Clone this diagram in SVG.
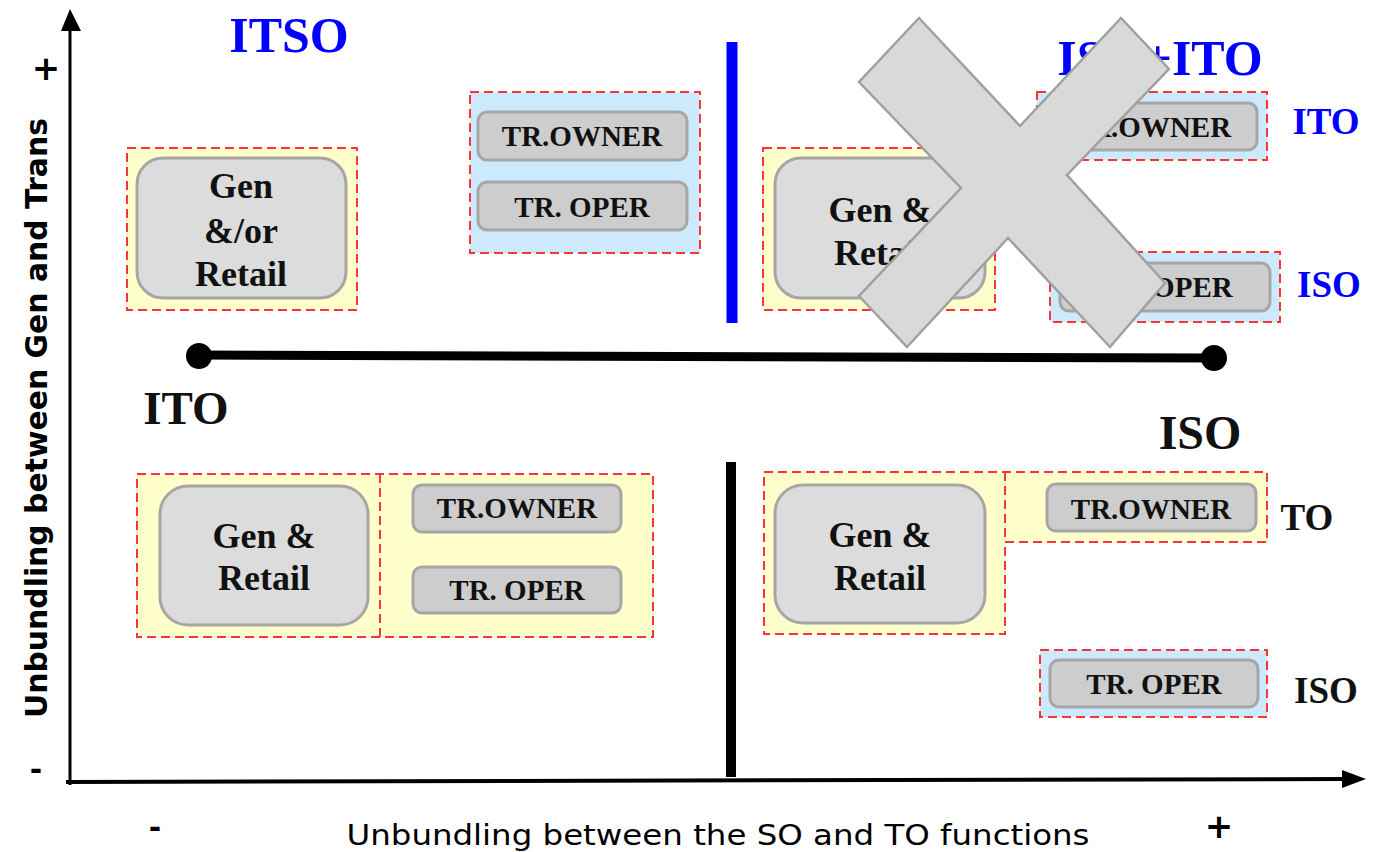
<svg xmlns="http://www.w3.org/2000/svg" width="1373" height="852" viewBox="0 0 1373 852">
<defs>
<style>
.grpY{fill:#ffffcc;stroke:#ff3333;stroke-width:2;stroke-dasharray:9,5}
.grpB{fill:#cdeafd;stroke:#ff3333;stroke-width:2;stroke-dasharray:9,5}
.big{fill:#dcdcdc;stroke:#a6a6a6;stroke-width:3}
.sm{fill:#cdcdcd;stroke:#a6a6a6;stroke-width:3}
.t{font-family:"Liberation Serif",serif;font-weight:bold;fill:#111;text-anchor:middle}
.tb{font-size:36px}
.ts{font-size:29px}
.blue{fill:#0000ff}
.ax{font-family:"DejaVu Sans","Liberation Sans",sans-serif;fill:#000}
</style>
<marker id="arr" viewBox="0 0 10 10" refX="9" refY="5" markerWidth="10" markerHeight="10" markerUnits="userSpaceOnUse" orient="auto"><path d="M0,0 L10,5 L0,10 z" fill="#000"/></marker>
</defs>
<rect width="1373" height="852" fill="#fff"/>

<g id="axes">
<line x1="70" y1="785" x2="70" y2="30" stroke="#000" stroke-width="3"/>
<path d="M61,31 L70,9 L81,31 z" fill="#000"/>
<line x1="66" y1="782" x2="1345" y2="779" stroke="#000" stroke-width="4"/>
<path d="M1342,770 L1366,779 L1342,788 z" fill="#000"/>
<text class="ax" x="46" y="80" font-size="34" font-weight="bold" text-anchor="middle">+</text>
<text class="ax" x="36" y="780" font-size="30" font-weight="bold" text-anchor="middle">-</text>
<text class="ax" x="155" y="838" font-size="30" font-weight="bold" text-anchor="middle">-</text>
<text class="ax" x="1219" y="838" font-size="34" font-weight="bold" text-anchor="middle">+</text>
<text class="ax" x="718" y="845" font-size="28" textLength="743" lengthAdjust="spacingAndGlyphs" text-anchor="middle">Unbundling between the SO and TO functions</text>
<text class="ax" transform="translate(47,418) rotate(-90)" font-size="30" font-weight="bold" textLength="600" lengthAdjust="spacingAndGlyphs" text-anchor="middle">Unbundling between Gen and Trans</text>
</g>

<g id="connectors">
<line x1="732" y1="42" x2="732" y2="323" stroke="#0000ff" stroke-width="11"/>
<line x1="731" y1="462" x2="731" y2="777" stroke="#000" stroke-width="10"/>
<path d="M200,355 L1214,358" stroke="#000" stroke-width="9"/>
<circle cx="199" cy="356" r="13" fill="#000"/>
<circle cx="1214" cy="358" r="13" fill="#000"/>
</g>

<g id="labels">
<text class="t blue" x="289" y="52" font-size="50">ITSO</text>
<text class="t blue" x="1160" y="75" font-size="50">ISO+ITO</text>
<text class="t" x="186" y="424" font-size="47">ITO</text>
<text class="t" x="1200" y="449" font-size="48">ISO</text>
<text class="t blue" x="1326" y="134" font-size="37">ITO</text>
<text class="t blue" x="1329" y="297" font-size="37">ISO</text>
<text class="t" x="1307" y="530" font-size="37">TO</text>
<text class="t" x="1326" y="703" font-size="37">ISO</text>
</g>

<g id="itso-gen">
<rect class="grpY" x="127" y="148" width="230" height="162"/>
<rect class="big" x="137" y="158" width="209" height="140" rx="26"/>
<text class="t tb" x="241" y="198">Gen</text>
<text class="t tb" x="241" y="243">&amp;/or</text>
<text class="t tb" x="241" y="286">Retail</text>
</g>

<g id="itso-trans">
<rect class="grpB" x="470" y="92" width="230" height="161"/>
<rect class="sm" x="478" y="112" width="209" height="48" rx="9"/>
<text class="t ts" x="582" y="146">TR.OWNER</text>
<rect class="sm" x="478" y="182" width="209" height="48" rx="9"/>
<text class="t ts" x="582" y="217">TR. OPER</text>
</g>

<g id="isoito-gen">
<rect class="grpY" x="763" y="148" width="232" height="162"/>
<rect class="big" x="775" y="158" width="210" height="140" rx="26"/>
<text class="t tb" x="880" y="222">Gen &amp;</text>
<text class="t tb" x="880" y="265">Retail</text>
</g>

<g id="isoito-owner">
<rect class="grpB" x="1037" y="92" width="230" height="68"/>
<rect class="sm" x="1045" y="103" width="212" height="47" rx="9"/>
<text class="t ts" x="1151" y="137">TR.OWNER</text>
</g>

<g id="isoito-oper">
<rect class="grpB" x="1050" y="252" width="230" height="70"/>
<rect class="sm" x="1060" y="263" width="210" height="48" rx="9"/>
<text class="t ts" x="1165" y="297">TR. OPER</text>
</g>

<g id="cross">
<polygon points="919,18 1020,126 1121,18 1169,69 1067,175 1165,283 1110,347 1008,238 907,347 859,296 961,188 859,82" fill="#d9d9d9" stroke="#a0a0a0" stroke-width="2.5" stroke-linejoin="miter"/>
</g>

<g id="ito-group">
<rect class="grpY" x="137" y="474" width="516" height="163"/>
<line x1="380" y1="474" x2="380" y2="637" stroke="#ff3333" stroke-width="2" stroke-dasharray="9,5"/>
<rect class="big" x="160" y="486" width="208" height="139" rx="28"/>
<text class="t tb" x="264" y="548">Gen &amp;</text>
<text class="t tb" x="264" y="590">Retail</text>
<rect class="sm" x="413" y="485" width="208" height="47" rx="9"/>
<text class="t ts" x="517" y="518">TR.OWNER</text>
<rect class="sm" x="413" y="567" width="208" height="46" rx="9"/>
<text class="t ts" x="517" y="600">TR. OPER</text>
</g>

<g id="iso-group">
<path class="grpY" d="M764,472 L1267,472 L1267,542 L1005,542 L1005,634 L764,634 Z"/>
<line x1="1005" y1="472" x2="1005" y2="542" stroke="#ff3333" stroke-width="2" stroke-dasharray="9,5"/>
<rect class="big" x="775" y="485" width="210" height="138" rx="28"/>
<text class="t tb" x="880" y="547">Gen &amp;</text>
<text class="t tb" x="880" y="590">Retail</text>
<rect class="sm" x="1047" y="484" width="209" height="47" rx="9"/>
<text class="t ts" x="1151" y="519">TR.OWNER</text>
</g>

<g id="iso-oper">
<rect class="grpB" x="1040" y="650" width="227" height="67"/>
<rect class="sm" x="1050" y="660" width="208" height="47" rx="9"/>
<text class="t ts" x="1154" y="694">TR. OPER</text>
</g>
</svg>
